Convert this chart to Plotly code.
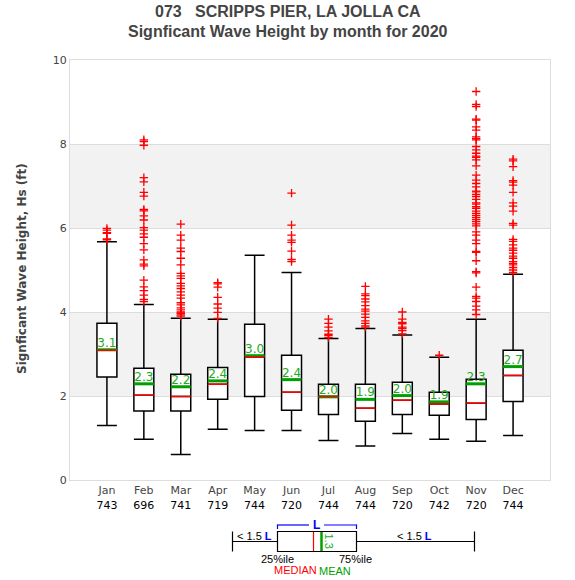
import plotly.graph_objects as go

# ---------------- data ----------------
months = ["Jan", "Feb", "Mar", "Apr", "May", "Jun", "Jul", "Aug", "Sep", "Oct", "Nov", "Dec"]
counts = [743, 696, 741, 719, 744, 720, 744, 744, 720, 742, 720, 744]
q1 = [2.45, 1.64, 1.64, 1.92, 1.99, 1.66, 1.56, 1.40, 1.56, 1.54, 1.44, 1.87]
median = [3.09, 2.02, 1.99, 2.28, 2.93, 2.09, 1.99, 1.71, 1.90, 1.81, 1.83, 2.49]
q3 = [3.73, 2.66, 2.52, 2.68, 3.71, 2.97, 2.28, 2.28, 2.33, 2.09, 2.40, 3.09]
mean = [3.10, 2.29, 2.22, 2.36, 2.96, 2.39, 1.98, 1.92, 2.01, 1.86, 2.29, 2.70]
lower_whisker = [1.30, 0.97, 0.61, 1.21, 1.18, 1.18, 0.94, 0.81, 1.11, 0.97, 0.92, 1.06]
upper_whisker = [5.67, 4.18, 3.85, 3.83, 5.35, 4.94, 3.37, 3.61, 3.45, 2.92, 3.83, 4.90]

out_jan = [5.99, 5.95, 5.89, 5.87, 5.74, 5.72]
out_feb = [8.10, 8.06, 7.97, 7.20, 7.10, 6.85, 6.76, 6.44, 6.41, 6.29, 6.19, 6.01, 5.95,
           5.86, 5.78, 5.63, 5.48, 5.24, 5.14, 5.10, 4.76, 4.60, 4.51, 4.40, 4.30, 4.25]
out_mar = [6.09, 5.83, 5.71, 5.52, 5.44, 5.28, 5.12, 4.92, 4.86, 4.80, 4.68, 4.62, 4.56,
           4.48, 4.40, 4.33, 4.22, 4.17, 4.10, 4.05, 4.00, 3.97, 3.93, 3.90]
out_apr = [4.70, 4.67, 4.59, 4.35, 4.19, 4.09, 3.99, 3.85]
out_may = []
out_jun = [6.83, 6.07, 5.83, 5.71, 5.66, 5.45, 5.25, 5.20]
out_jul = [3.83, 3.73, 3.64, 3.55, 3.47, 3.44, 3.39]
out_aug = [4.61, 4.43, 4.39, 4.31, 4.24, 4.15, 4.07, 4.02, 3.95, 3.87, 3.79, 3.73, 3.67, 3.64]
out_sep = [4.00, 3.83, 3.75, 3.72, 3.64, 3.61, 3.56, 3.48]
out_oct = [2.97]
out_nov = [9.25, 8.94, 8.89, 8.59, 8.57, 8.41, 8.33, 8.17, 8.13, 8.10, 7.94, 7.86, 7.78,
           7.71, 7.68, 7.62, 7.48, 7.26, 7.14, 7.06, 6.98, 6.88, 6.86, 6.80, 6.75, 6.68,
           6.60, 6.57, 6.51, 6.47, 6.40, 6.35, 6.30, 6.25, 6.20, 6.15, 6.10, 6.05, 5.91,
           5.83, 5.71, 5.63, 5.44, 5.42, 5.22, 4.96, 4.93, 4.59, 4.37, 4.33, 4.25, 4.14,
           4.05, 3.94]
out_dec = [7.64, 7.60, 7.46, 7.13, 7.09, 7.02, 6.85, 6.60, 6.52, 6.40, 6.11, 6.07, 5.73,
           5.68, 5.60, 5.52, 5.47, 5.40, 5.33, 5.28, 5.20, 5.16, 5.12, 5.06, 5.00, 4.94]
outliers = [out_jan, out_feb, out_mar, out_apr, out_may, out_jun,
            out_jul, out_aug, out_sep, out_oct, out_nov, out_dec]

title_line1 = "073&nbsp;&nbsp;&nbsp;SCRIPPS PIER, LA JOLLA CA"
title_line2 = "Signficant Wave Height by month for 2020"
y_title = "Signficant Wave Height, Hs (ft)"

# ---------------- styling ----------------
W, H = 575, 580
L, R, T, B = 70, 25, 60, 100
BOXW = 0.54
GRAY = "#444444"
FONT = "DejaVu Sans"
MEAN_C = "#00a000"
MEAN_TXT = "#22aa22"

xs = list(range(1, len(months) + 1))

fig = go.Figure()

fig.add_trace(go.Box(
    x=xs, q1=q1, median=median, q3=q3,
    lowerfence=lower_whisker, upperfence=upper_whisker,
    width=BOXW, whiskerwidth=1, boxpoints=False,
    line=dict(color="black", width=1.5), fillcolor="white",
    showlegend=False, hoverinfo="skip",
))

def segs(vals):
    sx, sy = [], []
    for x, v in zip(xs, vals):
        sx += [x - BOXW / 2, x + BOXW / 2, None]
        sy += [v, v, None]
    return sx, sy

mx, my = segs(mean)
fig.add_trace(go.Scatter(x=mx, y=my, mode="lines", line=dict(color=MEAN_C, width=3),
                         showlegend=False, hoverinfo="skip"))
dx, dy = segs(median)
fig.add_trace(go.Scatter(x=dx, y=dy, mode="lines", line=dict(color="red", width=1.5),
                         showlegend=False, hoverinfo="skip"))

fig.add_trace(go.Scatter(
    x=xs, y=mean, mode="text", text=[f"{m:.1f}" for m in mean],
    textposition="top center", textfont=dict(family=FONT, size=12, color=MEAN_TXT),
    showlegend=False, hoverinfo="skip"))

ox, oy = [], []
for x, vals in zip(xs, outliers):
    ox += [x] * len(vals)
    oy += vals
fig.add_trace(go.Scatter(
    x=ox, y=oy, mode="markers",
    marker=dict(symbol="cross-thin", size=6, line=dict(color="red", width=1.3), color="red"),
    showlegend=False, hoverinfo="skip"))

# gray bands
for y0, y1 in [(2, 4), (6, 8)]:
    fig.add_shape(type="rect", xref="paper", yref="y", x0=0, x1=1, y0=y0, y1=y1,
                  fillcolor="#f2f2f2", line=dict(width=0), layer="below")

# ---------------- pixel -> paper helpers ----------------
def px(p):
    return (p - L) / (W - L - R)

def py(p):
    return (H - B - p) / (H - T - B)

def line(x0, y0, x1, y1, color="black", width=1.2):
    fig.add_shape(type="line", xref="paper", yref="paper",
                  x0=px(x0), y0=py(y0), x1=px(x1), y1=py(y1),
                  line=dict(color=color, width=width))

def txt(x, y, s, color="black", size=11, angle=0, family="Liberation Sans"):
    fig.add_annotation(xref="paper", yref="paper", x=px(x), y=py(y), text=s,
                       showarrow=False, xanchor="center", yanchor="middle",
                       textangle=angle, font=dict(family=family, size=size, color=color))

# title lines
txt(288, 12, f"<b>{title_line1}</b>", color=GRAY, size=16)
txt(288, 31, f"<b>{title_line2}</b>", color=GRAY, size=16)
# y-axis title
txt(22, 269, f"<b>{y_title}</b>", color=GRAY, size=12, angle=-90, family=FONT)

# key diagram below the plot
line(232.5, 541.5, 474.5, 541.5)
line(232.5, 531.5, 232.5, 551.5)
line(474.5, 531.5, 474.5, 551.5)
fig.add_shape(type="rect", xref="paper", yref="paper",
              x0=px(277.5), x1=px(356.5), y0=py(551.5), y1=py(531.5),
              fillcolor="white", line=dict(color="black", width=1.2))
line(313.5, 532, 313.5, 551, color="red", width=1.2)
line(321.5, 532, 321.5, 551, color=MEAN_C, width=2.5)
txt(328.5, 541, "1.3", color=MEAN_TXT, size=11, angle=90)
BLUE = "#0000ff"
line(277.5, 525, 309, 525, color=BLUE, width=1.2)
line(324, 525, 356.5, 525, color=BLUE, width=1.2)
line(277.5, 524.5, 277.5, 529, color=BLUE, width=1.2)
line(356.5, 524.5, 356.5, 529, color=BLUE, width=1.2)
txt(316.5, 524.5, "<b>L</b>", color=BLUE, size=12)
txt(254, 535.5, "&lt; 1.5 <b><span style='color:#0000ff'>L</span></b>", size=11)
txt(414, 535.5, "&lt; 1.5 <b><span style='color:#0000ff'>L</span></b>", size=11)
txt(277, 559, "25%ile", size=11)
txt(355, 559, "75%ile", size=11)
txt(295, 569.5, "MEDIAN", color="red", size=11)
txt(335, 570.5, "MEAN", color=MEAN_C, size=11)

ticktext = [f"{m}<br><span style='color:black'>{n}</span>" for m, n in zip(months, counts)]

fig.update_layout(
    width=W, height=H,
    margin=dict(l=L, r=R, t=T, b=B),
    paper_bgcolor="white", plot_bgcolor="white",
    font=dict(family=FONT, size=11, color=GRAY),
    showlegend=False,
)
fig.update_xaxes(
    range=[0, 13], tickmode="array", tickvals=xs, ticktext=ticktext,
    showgrid=False, zeroline=False, showline=True, mirror=True, linecolor="#dddddd",
    linewidth=1, ticks="", tickfont=dict(family=FONT, size=11, color=GRAY))
fig.update_yaxes(
    range=[0, 10], dtick=2, showgrid=True, gridcolor="#dddddd", gridwidth=1,
    zeroline=False, showline=True, mirror=True, linecolor="#dddddd", linewidth=1,
    ticks="", tickfont=dict(family=FONT, size=11, color=GRAY))

fig.write_html("out.html", config={"displayModeBar": False},
               post_script="document.body.style.margin='0px';")
